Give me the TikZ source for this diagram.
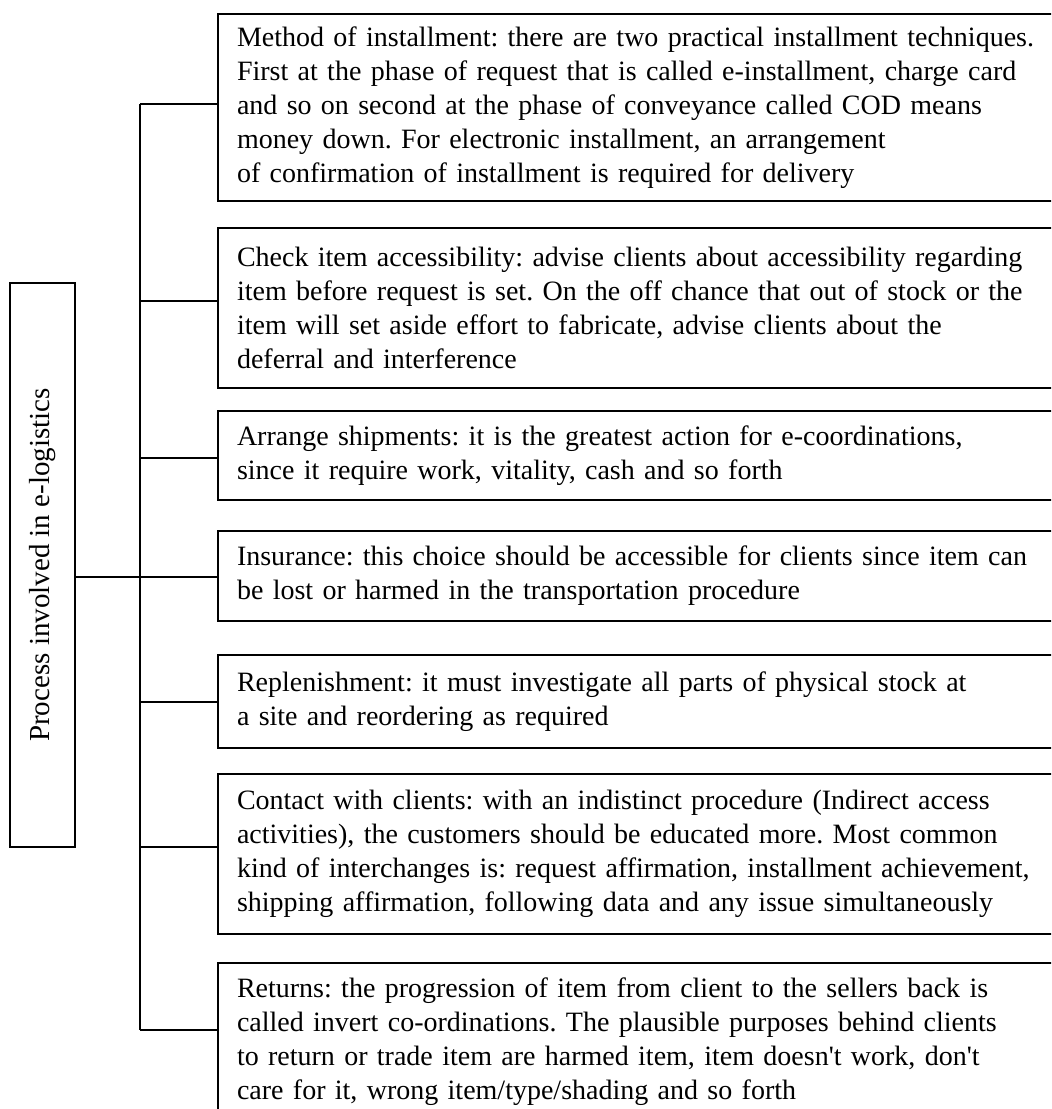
\documentclass[tikz,border=0pt]{standalone}
\usepackage{fontspec}
\setmainfont{Liberation Serif}
\usetikzlibrary{positioning}

\begin{document}
\frenchspacing
\begin{tikzpicture}[x=0.5pt, y=-0.5pt, line width=1pt]
    \tikzset{
        task/.style={
            draw,
            anchor=north west,
            text width=420pt,
            align=left,
            inner xsep=9.5pt,
            inner ysep=0pt,
            font=\fontsize{14pt}{17pt}\selectfont
        },
        root/.style={
            draw,
            rotate=90,
            minimum width=282pt,
            minimum height=32.5pt,
            inner sep=0pt,
            font=\fontsize{14.5pt}{17pt}\selectfont
        },
    }
    \useasboundingbox (0,0) rectangle (1051,1109);
    \clip (0,0) rectangle (1051,1109);

    \node[root] (proc) at (42.5,565) {Process involved in e-logistics};

    \node[task, minimum height=93.5pt] (b1) at (217,13) {Method of installment: there are two practical installment techniques.\\ First at the phase of request that is called e-installment, charge card\\ and so on second at the phase of conveyance called COD means\\ money down. For electronic installment, an arrangement\\ of confirmation of installment is required for delivery};
    \node[task, minimum height=80pt] (b2) at (217,227) {Check item accessibility: advise clients about accessibility regarding\\ item before request is set. On the off chance that out of stock or the\\ item will set aside effort to fabricate, advise clients about the\\ deferral and interference};
    \node[task, minimum height=44.5pt] (b3) at (217,410) {Arrange shipments: it is the greatest action for e-coordinations,\\ since it require work, vitality, cash and so forth};
    \node[task, minimum height=45pt] (b4) at (217,530) {Insurance: this choice should be accessible for clients since item can\\ be lost or harmed in the transportation procedure};
    \node[task, minimum height=46.5pt] (b5) at (217,654) {Replenishment: it must investigate all parts of physical stock at\\ a site and reordering as required};
    \node[task, minimum height=80pt] (b6) at (217,773) {Contact with clients: with an indistinct procedure (Indirect access\\ activities), the customers should be educated more. Most common\\ kind of interchanges is: request affirmation, installment achievement,\\ shipping affirmation, following data and any issue simultaneously};
    \node[task, minimum height=79pt] (b7) at (217,962) {Returns: the progression of item from client to the sellers back is\\ called invert co-ordinations. The plausible purposes behind clients\\ to return or trade item are harmed item, item doesn\textquotesingle t work, don\textquotesingle t\\ care for it, wrong item/type/shading and so forth};

    % branches to the trunk
    \foreach \n/\dy in {1/3.7,2/6.7,3/-2.5,4/-1,5/0,6/7,7/12}
        \draw ([yshift=\dy*0.5pt]b\n.west) -- ++(-77,0) coordinate (j\n);
    \draw (j1) -- (j7);
    \draw (proc.south |- j4) -- (j4);

\end{tikzpicture}
\end{document}
